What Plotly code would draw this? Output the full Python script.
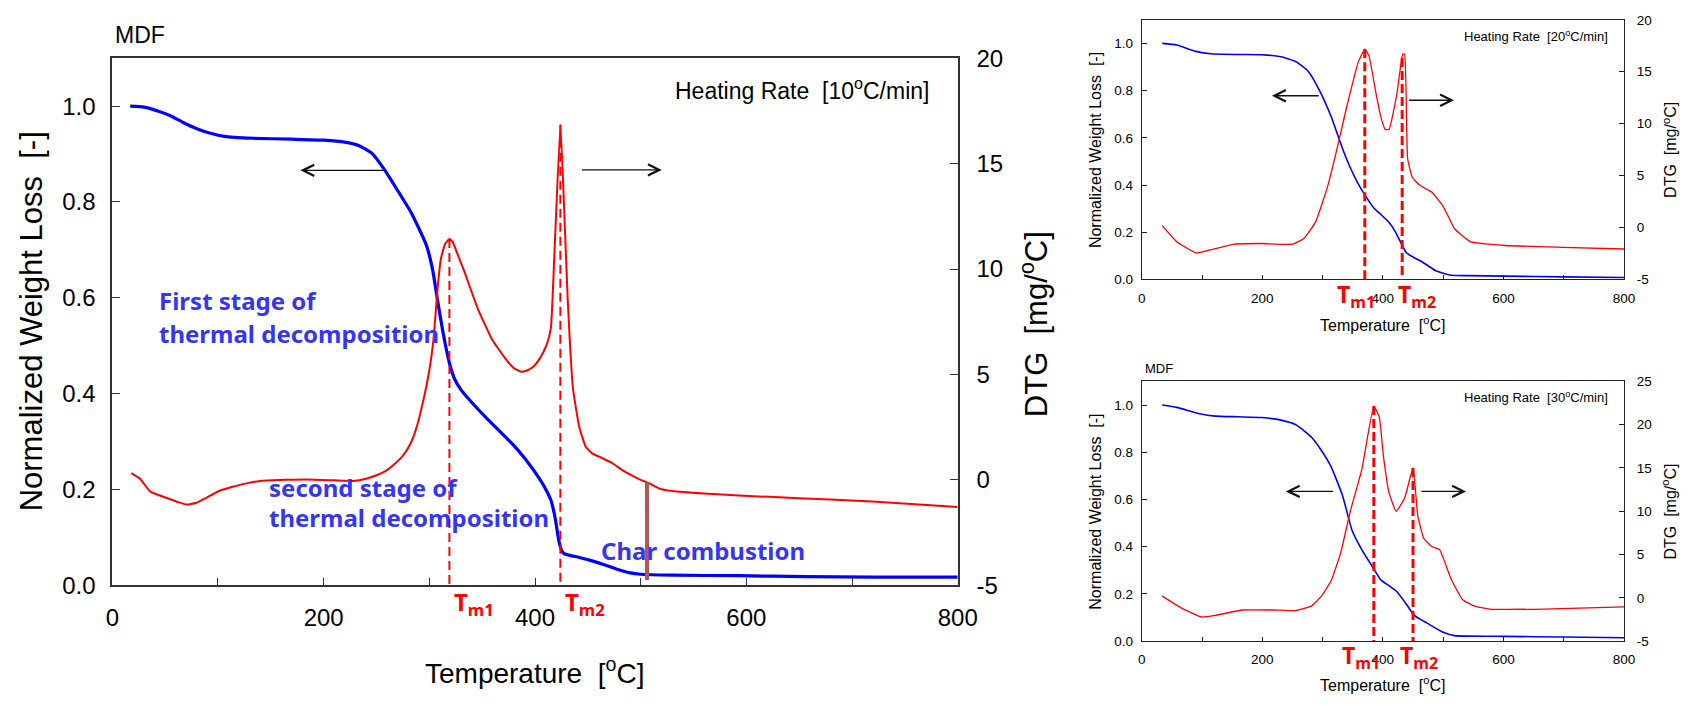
import numpy as np
import plotly.graph_objects as go

# ---------------- data: main chart (10 C/min) ----------------
main_tg_T = [17, 30, 43, 55, 67, 80, 92, 106, 133, 170, 200, 220, 233, 246, 258, 270, 283, 297,
             303, 308, 313, 319, 324, 330, 336, 345, 355, 366, 379, 391, 404, 411, 415, 418, 420, 422, 424,
             427, 432, 442, 454, 467, 480, 490, 500, 530, 593, 656, 720, 800]
main_tg_w = [1.000, 0.998, 0.990, 0.980, 0.966, 0.953, 0.944, 0.937, 0.933, 0.931, 0.929, 0.925, 0.918, 0.901,
             0.866, 0.824, 0.777, 0.711, 0.660, 0.592, 0.527, 0.464, 0.430, 0.408, 0.392, 0.370,
             0.347, 0.323, 0.294, 0.263, 0.223, 0.197, 0.178, 0.152, 0.128, 0.100, 0.080, 0.067, 0.063, 0.058,
             0.051, 0.042, 0.032, 0.026, 0.023, 0.021, 0.020, 0.018, 0.017, 0.017]
main_dtg_T = [18, 26, 36, 51, 62, 70, 79, 89, 100, 114, 130, 146, 184, 210, 228, 240, 250, 258, 265, 275, 282,
              288, 294, 300, 304, 308, 311, 315, 319, 322, 326, 333, 346, 359, 372, 380, 387, 393, 399, 405,
              411, 415, 419, 424, 427, 431, 436, 442, 448, 454, 463, 473, 483, 492, 500, 508, 518, 530, 560,
              593, 650, 719, 800]
main_dtg = [0.32, 0.06, -0.56, -0.85, -1.05, -1.17, -1.10, -0.85, -0.55, -0.33, -0.13, -0.03, 0.02, -0.02,
            -0.05, 0.05, 0.22, 0.40, 0.66, 1.15, 1.70, 2.50, 3.70, 5.20, 6.70, 9.20, 10.50, 11.20, 11.42,
            11.30, 10.80, 9.90, 8.10, 6.70, 5.75, 5.30, 5.13, 5.20, 5.40, 5.80, 6.40, 7.20, 11.50, 16.85,
            13.60, 8.50, 4.30, 2.48, 1.57, 1.26, 1.05, 0.80, 0.45, 0.20, 0.00, -0.16, -0.42, -0.53, -0.65,
            -0.74, -0.87, -1.02, -1.29]
main_tm = [319, 424]
char_T = 506

# ---------------- data: 20 C/min ----------------
r20_tg_T = [34, 58, 90, 115, 160, 199, 231, 256, 276, 295, 314, 333, 346, 358, 370, 385, 398, 410, 420, 429,
            439, 450, 462, 475, 487, 500, 513, 540, 603, 700, 800]
r20_tg_w = [1.000, 0.993, 0.966, 0.956, 0.953, 0.952, 0.943, 0.922, 0.882, 0.800, 0.691, 0.555, 0.473, 0.410,
            0.358, 0.303, 0.272, 0.242, 0.205, 0.160, 0.113, 0.095, 0.079, 0.058, 0.038, 0.026, 0.018, 0.016,
            0.014, 0.011, 0.008]
r20_dtg_T = [34, 58, 90, 115, 154, 199, 250, 269, 288, 308, 324, 340, 359, 370, 377, 388, 396, 404, 410, 423,
             433, 436, 441, 449, 462, 481, 500, 519, 545, 603, 699, 800]
r20_dtg = [0.18, -1.36, -2.44, -2.13, -1.60, -1.54, -1.60, -1.05, 0.49, 3.89, 7.60, 11.60, 15.90, 17.16,
           16.50, 13.10, 10.80, 9.44, 9.44, 12.80, 16.70, 16.70, 6.67, 4.81, 4.04, 3.42, 2.04, -0.12, -1.36,
           -1.73, -1.91, -2.07]
r20_tm = [370, 432]

# ---------------- data: 30 C/min ----------------
r30_tg_T = [34, 58, 96, 122, 160, 199, 231, 256, 282, 298, 314, 333, 349, 365, 385, 397, 410, 423, 439, 452,
            474, 500, 519, 603, 700, 800]
r30_tg_w = [1.000, 0.990, 0.963, 0.953, 0.950, 0.947, 0.936, 0.916, 0.862, 0.807, 0.739, 0.617, 0.468, 0.387,
            0.305, 0.258, 0.235, 0.210, 0.156, 0.109, 0.075, 0.037, 0.023, 0.020, 0.017, 0.014]
r30_dtg_T = [34, 64, 99, 122, 167, 218, 256, 282, 298, 314, 330, 346, 365, 385, 394, 401, 410, 422, 436, 450,
             458, 468, 481, 494, 513, 532, 551, 577, 667, 800]
r30_dtg = [0.19, -1.11, -2.22, -2.04, -1.41, -1.41, -1.48, -0.93, 0.19, 1.93, 5.19, 10.00, 14.80, 22.15,
           20.90, 16.30, 12.20, 10.00, 11.50, 15.00, 9.44, 6.85, 5.93, 5.56, 2.20, -0.19, -0.93, -1.30, -1.30,
           -1.04]
r30_tm = [385, 450]

# tick labels
x_ticks = [0, 200, 400, 600, 800]
w_ticks = [0.0, 0.2, 0.4, 0.6, 0.8, 1.0]
dtg_ticks_20 = [-5, 0, 5, 10, 15, 20]
dtg_ticks_25 = [-5, 0, 5, 10, 15, 20, 25]

# ---------------- style ----------------
BLUE = "#0000ff"
RED = "#ff0000"
TXTBLUE = "#3535f5"
ARIAL = "Liberation Sans"
BOLDF = "Noto Sans"

fig = go.Figure()

fig.add_trace(go.Scatter(x=main_dtg_T, y=main_dtg, xaxis="x", yaxis="y2", mode="lines",
                         line=dict(color=RED, width=2, shape="spline", smoothing=0.4)))
fig.add_trace(go.Scatter(x=main_tg_T, y=main_tg_w, xaxis="x", yaxis="y", mode="lines",
                         line=dict(color=BLUE, width=3.2, shape="spline", smoothing=0.5)))
fig.add_trace(go.Scatter(x=r20_dtg_T, y=r20_dtg, xaxis="x2", yaxis="y4", mode="lines",
                         line=dict(color=RED, width=1.3, shape="spline", smoothing=0.4)))
fig.add_trace(go.Scatter(x=r20_tg_T, y=r20_tg_w, xaxis="x2", yaxis="y3", mode="lines",
                         line=dict(color=BLUE, width=1.6, shape="spline", smoothing=0.5)))
fig.add_trace(go.Scatter(x=r30_dtg_T, y=r30_dtg, xaxis="x3", yaxis="y6", mode="lines",
                         line=dict(color=RED, width=1.3, shape="spline", smoothing=0.4)))
fig.add_trace(go.Scatter(x=r30_tg_T, y=r30_tg_w, xaxis="x3", yaxis="y5", mode="lines",
                         line=dict(color=BLUE, width=1.6, shape="spline", smoothing=0.5)))


def xax(domain, anchor, fs, lw, lc, tlen, standoff):
    return dict(domain=domain, anchor=anchor, range=[0, 800], tickvals=x_ticks, ticks="inside",
                ticklen=tlen, tickwidth=1, tickcolor=lc,
                minor=dict(dtick=100, tick0=0, ticks="inside", ticklen=tlen, tickcolor=lc, tickwidth=1),
                showline=True, linecolor=lc, linewidth=lw, mirror=True, showgrid=False, zeroline=False,
                tickfont=dict(family=ARIAL, size=fs, color="black"), ticklabelstandoff=standoff, fixedrange=True)


def yax(domain, anchor, fs, lw, lc, tlen, standoff):
    return dict(domain=domain, anchor=anchor, range=[0, 1.1], tickvals=w_ticks, tickformat=".1f",
                ticks="inside", ticklen=tlen, tickcolor=lc, showline=True, linecolor=lc, linewidth=lw,
                showgrid=False, zeroline=False, tickfont=dict(family=ARIAL, size=fs, color="black"),
                ticklabelstandoff=standoff, fixedrange=True)


def y2ax(over, anchor, rng, vals, fs, lw, lc, tlen, standoff):
    return dict(overlaying=over, anchor=anchor, side="right", range=rng, tickvals=vals,
                ticktext=[str(v) for v in vals], ticks="inside", ticklen=tlen, tickcolor=lc,
                showline=True, linecolor=lc, linewidth=lw, showgrid=False, zeroline=False,
                tickfont=dict(family=ARIAL, size=fs, color="black"), ticklabelstandoff=standoff,
                fixedrange=True)


W, H = 1706, 706


def px(x):
    return x / W


def py(y):
    return 1 - y / H


fig.update_layout(
    width=W, height=H, margin=dict(l=0, r=0, t=0, b=0), paper_bgcolor="white", plot_bgcolor="white",
    showlegend=False,
    xaxis=xax([px(107), px(966)], "y", 24, 2, "#333333", 7, 10),
    yaxis=yax([py(594), py(46)], "x", 24, 2, "#333333", 8, 10),
    yaxis2=y2ax("y", "x", [-5, 20], dtg_ticks_20, 24, 2, "#333333", 8, 12),
    xaxis2=xax([px(1153), px(1643)], "y3", 13.5, 1.2, "#222222", 4, 6),
    yaxis3=yax([py(276), py(6)], "x2", 13.5, 1.2, "#222222", 5, 5),
    yaxis4=y2ax("y3", "x2", [-5, 20], dtg_ticks_20, 13.5, 1.2, "#222222", 5, 9),
    xaxis3=xax([px(1153), px(1643)], "y5", 13.5, 1.2, "#222222", 4, 6),
    yaxis5=yax([py(652), py(382)], "x3", 13.5, 1.2, "#222222", 5, 5),
    yaxis6=y2ax("y5", "x3", [-5, 25], dtg_ticks_25, 13.5, 1.2, "#222222", 5, 9),
)

shapes = []
# Tm dashed lines
for tm in main_tm:
    top = float(np.interp(tm, main_dtg_T, main_dtg))
    shapes.append(dict(type="line", xref="x", yref="y2", x0=tm, x1=tm, y0=top, y1=-5,
                       line=dict(color=RED, width=2, dash="9px,5px")))
for tm in r20_tm:
    top = float(np.interp(tm, r20_dtg_T, r20_dtg))
    shapes.append(dict(type="line", xref="x2", yref="y4", x0=tm, x1=tm, y0=top, y1=-5,
                       line=dict(color=RED, width=3, dash="9px,4px")))
for tm in r30_tm:
    top = float(np.interp(tm, r30_dtg_T, r30_dtg))
    shapes.append(dict(type="line", xref="x3", yref="y6", x0=tm, x1=tm, y0=top, y1=-5,
                       line=dict(color=RED, width=3, dash="9px,4px")))
# char combustion marker
char_top = float(np.interp(char_T, main_dtg_T, main_dtg))
shapes.append(dict(type="line", xref="x", yref="y2", x0=char_T, x1=char_T, y0=char_top, y1=-4.75,
                   line=dict(color="#b35656", width=4)))
fig.update_layout(shapes=shapes)

ann = []


def text(x, y, t, size, color="black", family=ARIAL, xref="paper", yref="paper", xanchor="center",
         yanchor="middle", angle=0):
    ann.append(dict(x=x, y=y, text=t, xref=xref, yref=yref, xanchor=xanchor, yanchor=yanchor,
                    showarrow=False, textangle=angle, font=dict(family=family, size=size, color=color)))


def arrow(x_head, x_tail, y, xref, yref):
    ann.append(dict(x=x_head, y=y, ax=x_tail, ay=y, xref=xref, yref=yref, axref=xref, ayref=yref,
                    text="", showarrow=True, arrowhead=5, arrowsize=1.6, arrowwidth=1.4,
                    arrowcolor="#111111", standoff=0, startstandoff=0))


# ---- main chart texts ----
text(px(108), py(22), "MDF", 23, xanchor="left")
text(775, 1.036, "Heating Rate  [10<sup>o</sup>C/min]", 23, xref="x", yref="y", xanchor="right")
text(px(536), py(683), "Temperature  [<sup>o</sup>C]", 28)
text(px(25), py(320), "Normalized Weight Loss  [-]", 31, angle=-90)
text(px(1043), py(322), "DTG  [mg/<sup>o</sup>C]", 31, angle=-90)
text(42, 0.594, "<b>First stage of</b>", 24, TXTBLUE, BOLDF, "x", "y", "left")
text(42, 0.526, "<b>thermal decomposition</b>", 24, TXTBLUE, BOLDF, "x", "y", "left")
text(146, 0.205, "<b>second stage of</b>", 24, TXTBLUE, BOLDF, "x", "y", "left")
text(146, 0.1425, "<b>thermal decomposition</b>", 24, TXTBLUE, BOLDF, "x", "y", "left")
text(461, 0.0723, "<b>Char combustion</b>", 24, TXTBLUE, BOLDF, "x", "y", "left")
text(342, py(612), "<b>T<sub>m1</sub></b>", 24, RED, BOLDF, "x", "paper")
text(447, py(612), "<b>T<sub>m2</sub></b>", 24, RED, BOLDF, "x", "paper")
arrow(178, 258, 0.866, "x", "y")
arrow(520, 443, 0.867, "x", "y")

# ---- 20 C/min chart texts ----
text(776, 1.031, "Heating Rate  [20<sup>o</sup>C/min]", 13, xref="x2", yref="y3", xanchor="right")
text(px(1398), py(322), "Temperature  [<sup>o</sup>C]", 16)
text(px(1106), py(141), "Normalized Weight Loss  [-]", 16, angle=-90)
text(px(1689), py(141), "DTG  [mg/<sup>o</sup>C]", 16, angle=-90)
text(355, py(293), "<b>T<sub>m1</sub></b>", 23, RED, BOLDF, "x2", "paper")
text(456, py(293), "<b>T<sub>m2</sub></b>", 23, RED, BOLDF, "x2", "paper")
arrow(216, 296, 0.778, "x2", "y3")
arrow(518, 441, 0.759, "x2", "y3")

# ---- 30 C/min chart texts ----
text(px(1154), py(369), "MDF", 13, xanchor="left")
text(776, 1.034, "Heating Rate  [30<sup>o</sup>C/min]", 13, xref="x3", yref="y5", xanchor="right")
text(px(1398), py(697), "Temperature  [<sup>o</sup>C]", 16)
text(px(1106), py(517), "Normalized Weight Loss  [-]", 16, angle=-90)
text(px(1689), py(517), "DTG  [mg/<sup>o</sup>C]", 16, angle=-90)
text(364, py(668), "<b>T<sub>m1</sub></b>", 23, RED, BOLDF, "x3", "paper")
text(460, py(668), "<b>T<sub>m2</sub></b>", 23, RED, BOLDF, "x3", "paper")
arrow(239, 320, 0.634, "x3", "y5")
arrow(538, 461.5, 0.634, "x3", "y5")

fig.update_layout(annotations=ann)

fig.write_html("out.html")
